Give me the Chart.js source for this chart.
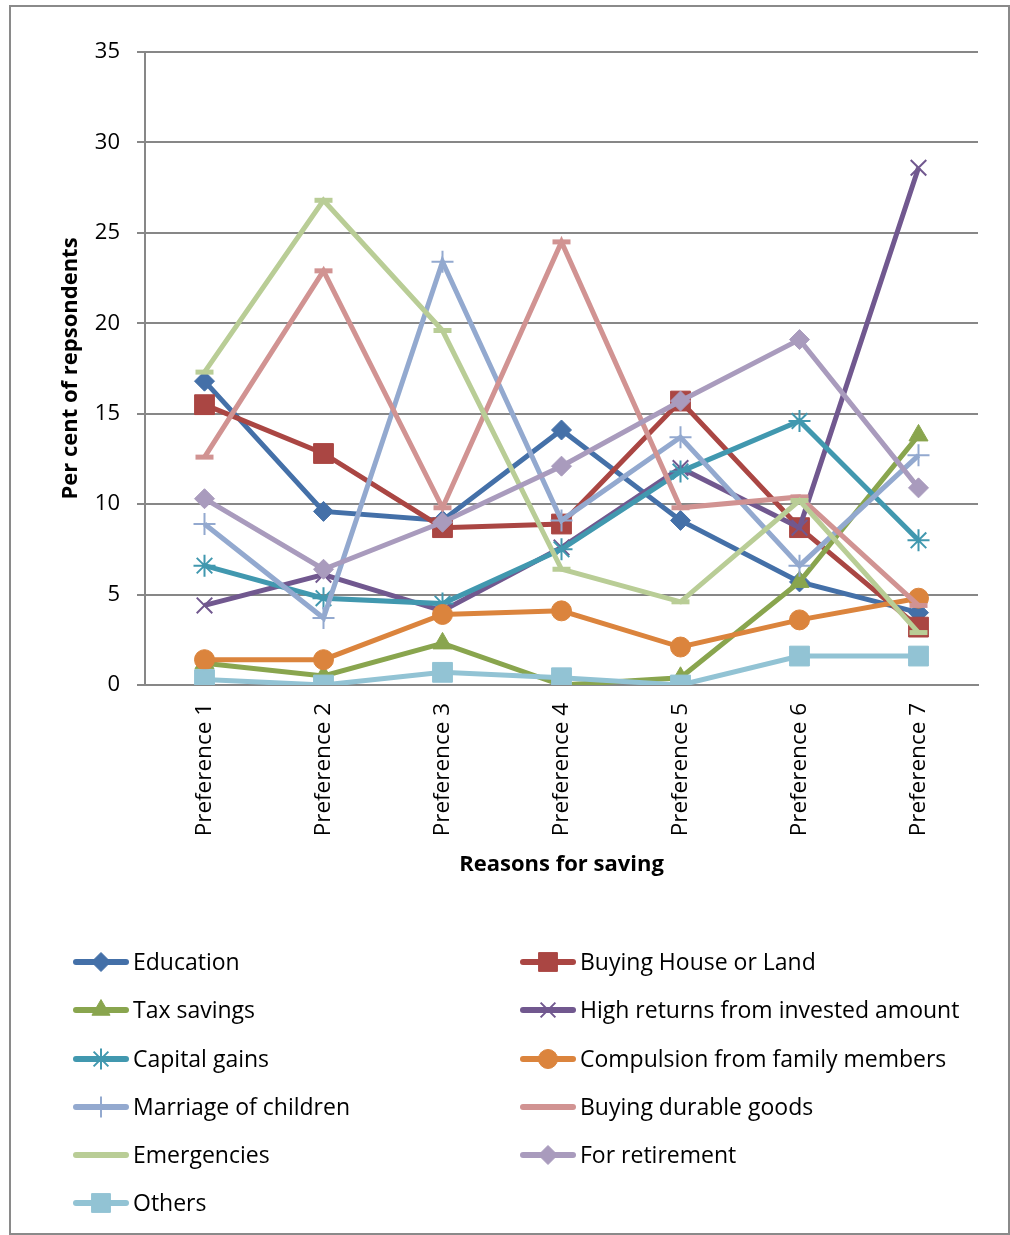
<!DOCTYPE html>
<html>
<head>
<meta charset="utf-8">
<script src="https://cdn.jsdelivr.net/npm/chart.js@4.4.1/dist/chart.umd.min.js"></script>
<style>
  html, body { margin: 0; padding: 0; background: #fff; }
  #frame { position: absolute; left: 9px; top: 5px; width: 997px; height: 1226px; border: 2px solid #8a8a8a; }
  #wrap { position: absolute; left: 0; top: 0; width: 1010px; height: 1235px; }
</style>
</head>
<body>
<div id="frame"></div>
<div id="wrap"><canvas id="chart" width="1010" height="1235"></canvas></div>
<script>
const preferences = ['Preference 1', 'Preference 2', 'Preference 3', 'Preference 4', 'Preference 5', 'Preference 6', 'Preference 7'];

const education      = [16.8, 9.6, 9.1, 14.1, 9.1, 5.7, 4.0];
const buyingHouse    = [15.5, 12.8, 8.7, 8.9, 15.7, 8.7, 3.2];
const taxSavings     = [1.2, 0.5, 2.3, 0.0, 0.4, 5.7, 13.8];
const highReturns    = [4.4, 6.1, 4.1, 7.6, 12.0, 8.7, 28.6];
const capitalGains   = [6.6, 4.8, 4.5, 7.5, 11.8, 14.6, 8.0];
const compulsion     = [1.4, 1.4, 3.9, 4.1, 2.1, 3.6, 4.8];
const marriage       = [8.9, 3.7, 23.4, 9.1, 13.7, 6.6, 12.7];
const durableGoods   = [12.6, 22.9, 9.8, 24.5, 9.8, 10.4, 4.4];
const emergencies    = [17.3, 26.8, 19.6, 6.4, 4.6, 10.2, 2.9];
const retirement     = [10.3, 6.4, 9.0, 12.1, 15.7, 19.1, 10.9];
const others         = [0.3, 0.0, 0.7, 0.4, 0.0, 1.6, 1.6];

const yTicks = [0, 5, 10, 15, 20, 25, 30, 35];

// label, values, colour, marker, marker radius, marker stroke, filled
const series = [
  ['Education', education, '#4470A8', 'rectRot', 10, 1, true],
  ['Buying House or Land', buyingHouse, '#AA4643', 'rect', 14, 1, true],
  ['Tax savings', taxSavings, '#89A54E', 'triangle', 11, 1, true],
  ['High returns from invested amount', highReturns, '#71588F', 'crossRot', 11, 2, false],
  ['Capital gains', capitalGains, '#4198AF', 'star', 11, 2, false],
  ['Compulsion from family members', compulsion, '#DB843D', 'circle', 10, 1, true],
  ['Marriage of children', marriage, '#93A9CF', 'cross', 11, 2, false],
  ['Buying durable goods', durableGoods, '#D19392', 'line', 9, 5, false],
  ['Emergencies', emergencies, '#B9CD96', 'line', 9, 5, false],
  ['For retirement', retirement, '#A99BBD', 'rectRot', 10, 1, true],
  ['Others', others, '#92C3D4', 'rect', 14, 1, true]
];

const FONT = "'Open Sans', sans-serif";

const datasets = series.map((s, i) => ({
  label: s[0],
  data: s[1],
  borderColor: s[2],
  backgroundColor: s[2],
  borderWidth: 5,
  tension: 0,
  pointStyle: s[3],
  pointRadius: s[4],
  pointBorderWidth: s[5],
  pointBackgroundColor: s[6] ? s[2] : 'transparent',
  pointBorderColor: s[2],
  order: series.length - i   // later series on top
}));

// two-column legend drawn under the axis title
const legendBlock = {
  id: 'legendBlock',
  afterDraw(chart) {
    const ctx = chart.ctx;
    const cols = [73, 520];
    const rowY = [962, 1010, 1059, 1107, 1155, 1203];
    ctx.save();
    series.forEach((s, i) => {
      const x = cols[i % 2];
      const y = rowY[Math.floor(i / 2)];
      ctx.strokeStyle = s[2];
      ctx.lineWidth = 6;
      ctx.lineCap = 'round';
      ctx.beginPath();
      ctx.moveTo(x + 3, y);
      ctx.lineTo(x + 53, y);
      ctx.stroke();
      ctx.lineCap = 'butt';
      ctx.fillStyle = s[6] ? s[2] : 'transparent';
      ctx.lineWidth = s[5];
      if (s[3] !== 'line') {
        Chart.helpers.drawPoint(ctx, { pointStyle: s[3], radius: s[4] * 0.95, rotation: 0, borderWidth: s[5] }, x + 28, y);
      }
      ctx.fillStyle = '#000';
      ctx.font = '23px ' + FONT;
      ctx.textBaseline = 'middle';
      ctx.textAlign = 'left';
      ctx.fillText(s[0], x + 60, y + 1);
    });
    ctx.restore();
  }
};

new Chart(document.getElementById('chart'), {
  type: 'line',
  data: { labels: preferences, datasets: datasets },
  plugins: [legendBlock],
  options: {
    responsive: false,
    animation: false,
    layout: { padding: { left: 10, top: 52, right: 32, bottom: 355 } },
    plugins: {
      legend: { display: false },
      tooltip: { enabled: false }
    },
    scales: {
      x: {
        offset: true,
        grid: { display: false },
        border: { display: true, color: '#878787', width: 2 },
        ticks: {
          color: '#000',
          font: { family: FONT, size: 22.5 },
          minRotation: 90,
          maxRotation: 90,
          padding: 10
        },
        title: {
          display: true,
          text: 'Reasons for saving',
          color: '#000',
          font: { family: FONT, size: 22, weight: 'bold' },
          padding: { top: 0, bottom: 2 }
        },
        afterFit(scale) { scale.height = 195; }
      },
      y: {
        min: 0,
        max: 35,
        afterBuildTicks(scale) { scale.ticks = yTicks.map(v => ({ value: v })); },
        grid: { color: '#878787', lineWidth: 2, tickLength: 8 },
        border: { display: true, color: '#878787', width: 2 },
        ticks: {
          color: '#000',
          font: { family: FONT, size: 22 },
          padding: 17
        },
        title: {
          display: true,
          text: 'Per cent of repsondents',
          color: '#000',
          font: { family: FONT, size: 22, weight: 'bold' },
          padding: { top: 48, bottom: 0 }
        },
        afterFit(scale) { scale.width = 135; }
      }
    }
  }
});
</script>
</body>
</html>
